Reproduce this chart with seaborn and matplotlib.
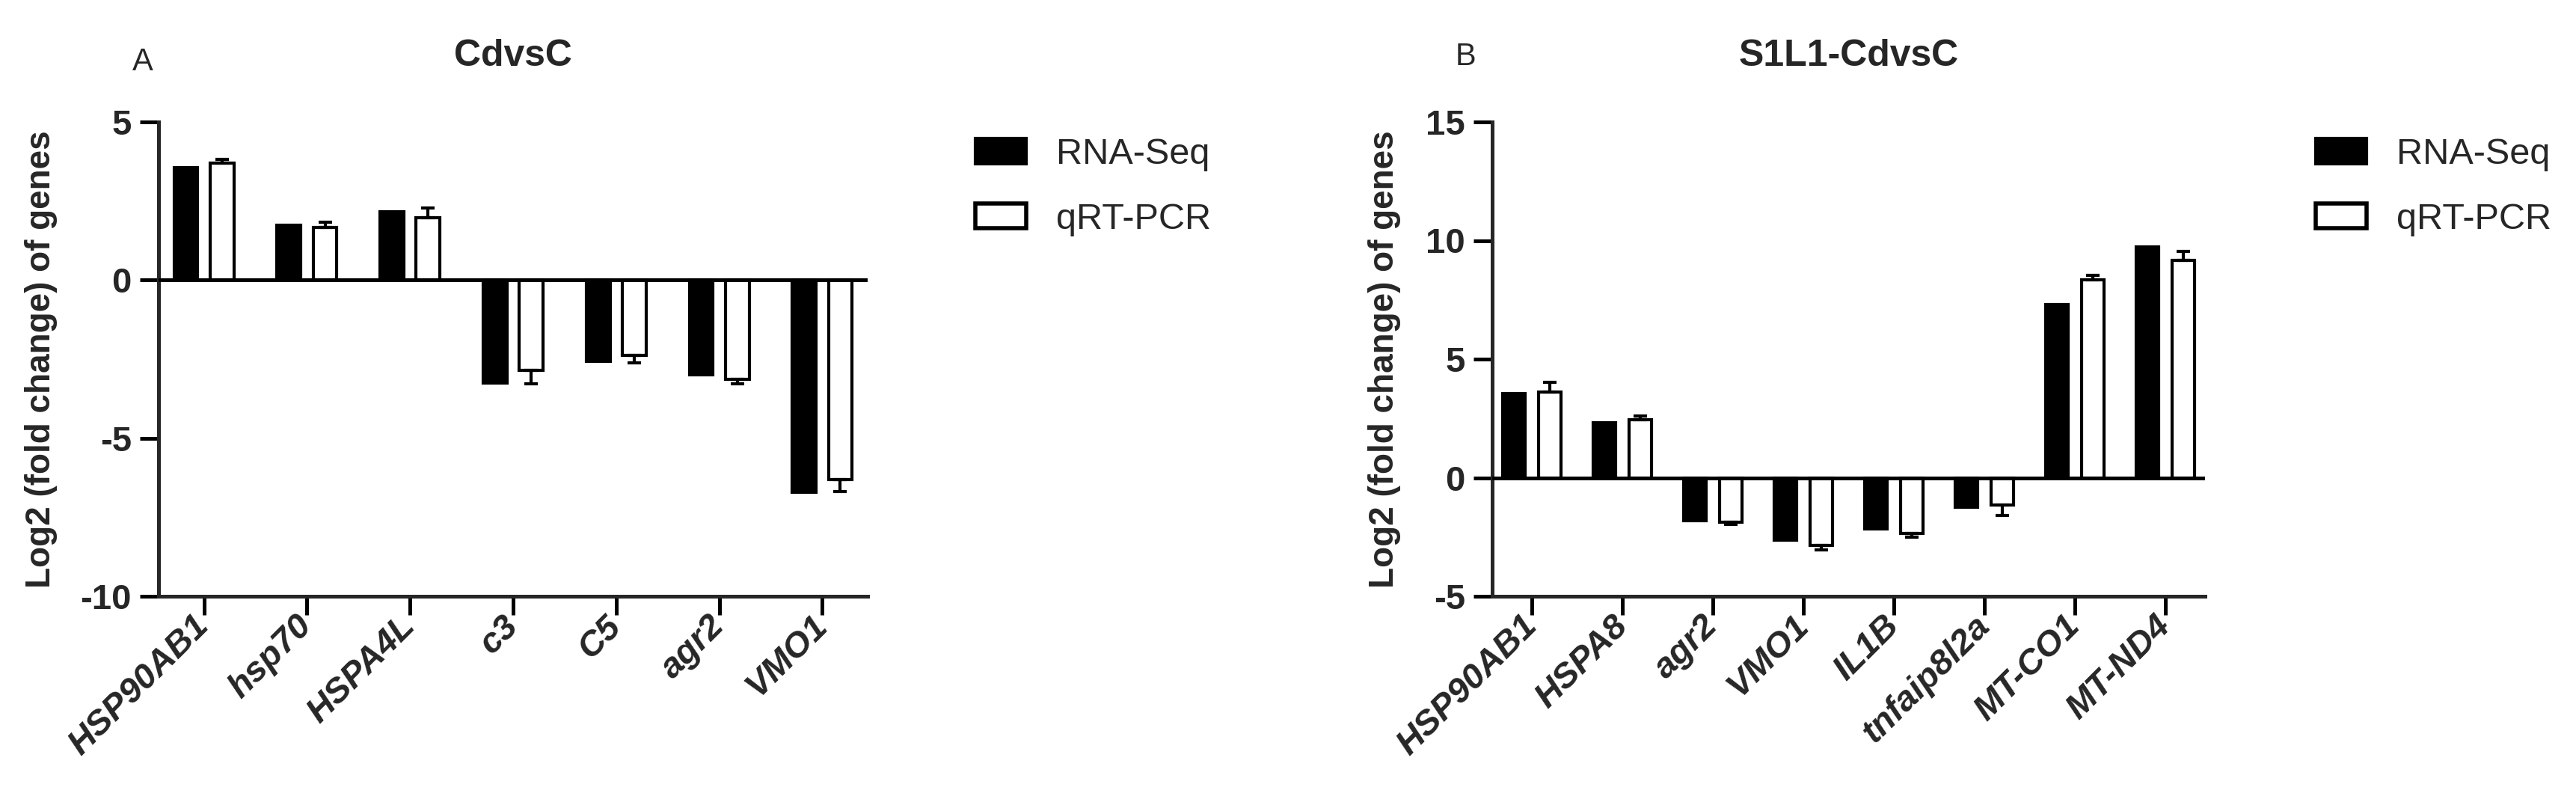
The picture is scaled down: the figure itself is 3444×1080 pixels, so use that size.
import numpy as np
import pandas as pd
import seaborn as sns
import matplotlib.pyplot as plt
from matplotlib.patches import Patch

# panel A: CdvsC
genes_a = ["HSP90AB1", "hsp70", "HSPA4L", "c3", "C5", "agr2", "VMO1"]
rnaseq_a = [3.56, 1.73, 2.17, -3.26, -2.56, -3.0, -6.72]
qpcr_a = [3.69, 1.66, 1.97, -2.85, -2.37, -3.13, -6.31]
qpcr_err_a = [0.12, 0.16, 0.31, 0.44, 0.24, 0.16, 0.38]

# panel B: S1L1-CdvsC
genes_b = ["HSP90AB1", "HSPA8", "agr2", "VMO1", "IL1B", "tnfaip8l2a", "MT-CO1", "MT-ND4"]
rnaseq_b = [3.56, 2.32, -1.8, -2.62, -2.17, -1.26, 7.31, 9.74]
qpcr_b = [3.62, 2.43, -1.87, -2.84, -2.34, -1.15, 8.33, 9.15]
qpcr_err_b = [0.4, 0.17, 0.1, 0.2, 0.17, 0.43, 0.19, 0.38]

methods = ["RNA-Seq", "qRT-PCR"]
palette = {"RNA-Seq": "black", "qRT-PCR": "white"}

sns.set_style("ticks")
plt.rcParams["font.family"] = ["Liberation Sans", "DejaVu Sans"]
plt.rcParams["axes.unicode_minus"] = False

LW = 3.6


def long_table(genes, rna, qpcr):
    """ stack the two series into one table for seaborn """
    rows = []
    for g, v in zip(genes, rna):
        rows.append({"gene": g, "method": "RNA-Seq", "value": v})
    for g, v in zip(genes, qpcr):
        rows.append({"gene": g, "method": "qRT-PCR", "value": v})
    return pd.DataFrame(rows)


def draw_panel(ax, genes, rna, qpcr, err, title, ylim, yticks, width, gap, ylab_x):
    df = long_table(genes, rna, qpcr)
    sns.barplot(data=df, x="gene", y="value", hue="method", hue_order=methods,
                palette=palette, width=width, gap=gap, edgecolor="black",
                linewidth=3, errorbar=None, legend=False, ax=ax)

    # one-sided error bars on the qRT-PCR bars, pointing away from zero
    bars = ax.containers[1]
    xs = [b.get_x() + b.get_width() / 2 for b in bars]
    vals = np.array(qpcr)
    err = np.array(err)
    lower = np.where(vals < 0, err, 0)
    upper = np.where(vals > 0, err, 0)
    ax.errorbar(xs, vals, yerr=[lower, upper], fmt="none", ecolor="black",
                elinewidth=3, capsize=6.5, capthick=3, zorder=3)

    ax.axhline(0, color="black", lw=LW, zorder=4)
    ax.set_ylim(*ylim)
    ax.set_yticks(yticks)
    ax.set_xlim(-0.44, len(genes) - 0.56)

    sns.despine(ax=ax)
    for s in ["left", "bottom"]:
        ax.spines[s].set_linewidth(LW)
    ax.tick_params(axis="both", width=LW, length=18, color="black")
    ax.tick_params(axis="y", pad=8, labelsize=34)
    ax.tick_params(axis="x", pad=6, labelsize=34)

    for lab in ax.get_yticklabels():
        lab.set_fontweight("bold")
    ax.set_xticks(range(len(genes)))
    ax.set_xticklabels(genes, rotation=45, ha="right", va="center",
                       rotation_mode="anchor", fontweight="bold", style="italic")

    ax.set_xlabel("")
    ax.set_ylabel("Log2 (fold change) of genes", fontsize=33, fontweight="bold")
    ax.yaxis.set_label_coords(ylab_x, 0.5)
    ax.set_title(title, fontsize=36, fontweight="bold", pad=54)


fig = plt.figure(figsize=(34.44, 10.8), dpi=100)
ax_a = fig.add_axes([212 / 3444, 1 - 797 / 1080, 948 / 3444, 634 / 1080])
ax_b = fig.add_axes([1995 / 3444, 1 - 797 / 1080, 953 / 3444, 634 / 1080])

draw_panel(ax_a, genes_a, rnaseq_a, qpcr_a, qpcr_err_a, "CdvsC",
           (-10, 5), [-10, -5, 0, 5], 0.7, 0.34, -0.142)
draw_panel(ax_b, genes_b, rnaseq_b, qpcr_b, qpcr_err_b, "S1L1-CdvsC",
           (-5, 15), [-5, 0, 5, 10, 15], 0.8, 0.38, -0.128)

fig.text(191 / 3444, 1 - 83 / 1080, "A", fontsize=30, ha="center", va="center")
fig.text(1959 / 3444, 1 - 76 / 1080, "B", fontsize=30, ha="center", va="center")

handles = [Patch(facecolor="black", edgecolor="black", linewidth=3, label="RNA-Seq"),
           Patch(facecolor="white", edgecolor="black", linewidth=4, label="qRT-PCR")]
for left in [1304, 3096]:
    fig.legend(handles=handles, loc="upper left",
               bbox_to_anchor=(left / 3444, 1 - 184 / 1080), frameon=False,
               fontsize=35, handlelength=1.4, handleheight=0.68,
               handletextpad=0.82, labelspacing=0.86, borderpad=0, borderaxespad=0)

fig.savefig("out.png", dpi=100)
